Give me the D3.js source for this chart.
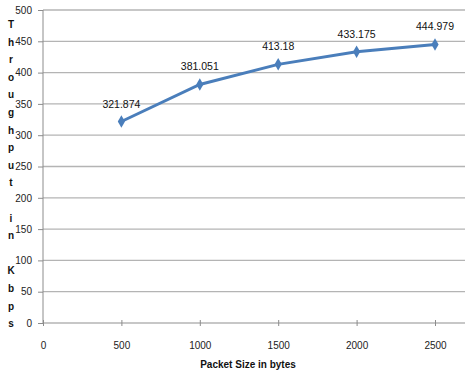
<!DOCTYPE html>
<meta charset="utf-8">
<style>
body { margin: 0; background: #fff; }
svg { font-family: 'Liberation Sans', sans-serif; }
.grid line { stroke: #b4b4b4; stroke-width: 1.3px; }
.axis path, .axis line { stroke: #8c8c8c; }
.axis text { font-size: 10px; fill: #222; }
</style>
<body>
<svg width="473" height="374"></svg>
<script src="https://d3js.org/d3.v7.min.js"></script>
<script>

var packetSizes = [500, 1000, 1500, 2000, 2500];
var throughput = [321.874, 381.051, 413.18, 433.175, 444.979];
var labels = ["321.874", "381.051", "413.18", "433.175", "444.979"];
var xTicks = [0, 500, 1000, 1500, 2000, 2500];
var yTicks = [0, 50, 100, 150, 200, 250, 300, 350, 400, 450, 500];

var svg = d3.select("svg");

var x = d3.scaleLinear()
    .domain([0, 2500])
    .range([43, 435]);

var y = d3.scaleLinear()
    .domain([0, 500])
    .range([323, 10]);

// gridlines
svg.append("g")
    .attr("class", "grid")
    .selectAll("line")
    .data(yTicks)
    .enter().append("line")
        .attr("x1", 43)
        .attr("x2", 465)
        .attr("y1", function(d) { return y(d); })
        .attr("y2", function(d) { return y(d); });

svg.append("g")
    .attr("class", "axis")
    .attr("transform", "translate(43,0)")
    .call(d3.axisLeft(y).tickValues(yTicks).tickSize(5).tickPadding(6))
    .call(function(g) { g.select(".domain").attr("d", "M0,10V323"); });

var xa = svg.append("g")
    .attr("class", "axis")
    .attr("transform", "translate(0,323)")
    .call(d3.axisBottom(x).tickValues(xTicks).tickFormat(d3.format("d")).tickSize(4).tickPadding(15));
xa.select(".domain").remove();
xa.selectAll(".tick line").attr("y1", -3).attr("y2", 3);

var pts = packetSizes.map(function(d, i) { return [d, throughput[i]]; });

svg.append("path")
    .datum(pts)
    .attr("fill", "none")
    .attr("stroke", "#4a7ebb")
    .attr("stroke-width", 3)
    .attr("d", d3.line()
        .x(function(d) { return x(d[0]); })
        .y(function(d) { return y(d[1]); }));

svg.selectAll(".marker")
    .data(pts)
    .enter().append("path")
        .attr("class", "marker")
        .attr("fill", "#4a7ebb")
        .attr("transform", function(d) { return "translate(" + x(d[0]) + "," + y(d[1]) + ")"; })
        .attr("d", d3.symbol().type(d3.symbolDiamond).size(45));

svg.selectAll(".lbl")
    .data(pts)
    .enter().append("text")
        .attr("class", "lbl")
        .attr("x", function(d) { return x(d[0]); })
        .attr("y", function(d) { return y(d[1]) - 14; })
        .attr("text-anchor", "middle")
        .style("font-size", "10.5px")
        .attr("fill", "#111")
        .text(function(d, i) { return labels[i]; });

svg.append("text")
    .attr("x", 248)
    .attr("y", 368)
    .attr("text-anchor", "middle")
    .style("font-size", "10px")
    .style("font-weight", "bold")
    .attr("fill", "#111")
    .text("Packet Size in bytes");

// vertical stacked y label
var yTitle = "Throughput in Kbps".split("");
svg.append("g")
    .selectAll("text")
    .data(yTitle)
    .enter().append("text")
        .attr("x", 11)
        .attr("y", function(d, i) { return 28 + i * 17.6; })
        .attr("text-anchor", "middle")
        .style("font-size", "10px")
        .style("font-weight", "bold")
        .attr("fill", "#111")
        .text(function(d) { return d; });

</script>
</body>
